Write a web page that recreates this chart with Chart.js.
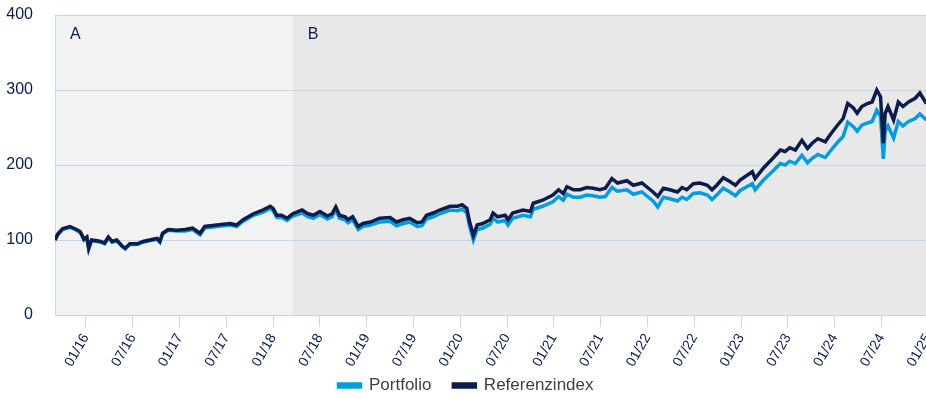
<!DOCTYPE html>
<html>
<head>
<meta charset="utf-8">
<script src="https://cdn.jsdelivr.net/npm/chart.js@4"></script>
<style>
  body { margin: 0; overflow: hidden; background: #fff; }
  #wrap { width: 932px; height: 399px; }
</style>
</head>
<body>
<div id="wrap"><canvas id="perfChart"></canvas></div>
<script>
// dates as decimal years
const dates = [
  2015.67, 2015.70, 2015.75, 2015.83, 2015.90, 2015.94, 2015.98, 2016.01, 2016.03, 2016.06,
  2016.12, 2016.16, 2016.20, 2016.24, 2016.28, 2016.33, 2016.38, 2016.42, 2016.47, 2016.55,
  2016.61, 2016.68, 2016.76, 2016.79, 2016.82, 2016.88, 2016.97, 2017.06, 2017.14, 2017.22,
  2017.27, 2017.40, 2017.54, 2017.61, 2017.68, 2017.79, 2017.89, 2017.97, 2018.00, 2018.04,
  2018.09, 2018.15, 2018.21, 2018.31, 2018.37, 2018.43, 2018.50, 2018.58, 2018.63, 2018.67,
  2018.71, 2018.77, 2018.80, 2018.85, 2018.91, 2018.96, 2019.04, 2019.14, 2019.25, 2019.32,
  2019.39, 2019.46, 2019.54, 2019.59, 2019.64, 2019.71, 2019.78, 2019.89, 2019.97, 2020.02,
  2020.07, 2020.10, 2020.14, 2020.18, 2020.24, 2020.32, 2020.35, 2020.40, 2020.48, 2020.51,
  2020.56, 2020.67, 2020.75, 2020.78, 2020.88, 2020.99, 2021.05, 2021.10, 2021.14, 2021.21,
  2021.28, 2021.35, 2021.42, 2021.49, 2021.55, 2021.62, 2021.68, 2021.78, 2021.85, 2021.94,
  2022.01, 2022.06, 2022.11, 2022.17, 2022.24, 2022.32, 2022.37, 2022.42, 2022.49, 2022.56,
  2022.64, 2022.69, 2022.74, 2022.81, 2022.88, 2022.94, 2022.99, 2023.12, 2023.15, 2023.24,
  2023.34, 2023.42, 2023.47, 2023.52, 2023.58, 2023.65, 2023.71, 2023.76, 2023.82, 2023.90,
  2023.95, 2024.03, 2024.09, 2024.14, 2024.20, 2024.24, 2024.29, 2024.35, 2024.40, 2024.45,
  2024.49, 2024.52, 2024.54, 2024.57, 2024.63, 2024.68, 2024.73, 2024.79, 2024.86, 2024.91,
  2024.98
]

const referenzindex = [
  100, 108, 115, 118, 114, 111, 101, 104, 89, 100,
  99, 98, 96, 104, 98, 100, 93, 89, 95, 95,
  98, 100, 102, 98, 109, 114, 113, 114, 116, 109,
  118, 120, 122, 120, 127, 135, 140, 145, 142, 133,
  133, 129, 135, 140, 135, 133, 138, 132, 135, 144,
  133, 131, 127, 131, 118, 122, 124, 129, 130, 124,
  127, 129, 123, 124, 133, 136, 140, 145, 145, 147,
  142, 124, 106, 120, 122, 127, 136, 131, 133, 127,
  136, 140, 138, 149, 153, 160, 167, 162, 171, 167,
  167, 170, 169, 167, 169, 182, 176, 179, 173, 176,
  169, 164, 158, 169, 167, 164, 170, 167, 175, 176,
  173, 167, 173, 183, 178, 173, 180, 191, 182, 196,
  209, 220, 218, 223, 220, 233, 222, 229, 235, 231,
  240, 253, 262, 282, 276, 269, 278, 282, 284, 300,
  291, 229, 269, 278, 260, 284, 278, 284, 289, 296,
  282
]

const portfolio = [
  100, 107, 114, 117, 113, 110, 100, 103, 88, 99,
  98, 97, 95, 103, 97, 99, 92, 88, 94, 94,
  97, 99, 101, 97, 108, 113, 112, 112, 114, 107,
  116, 118, 120, 118, 125, 133, 137, 142, 139, 130,
  130, 126, 132, 136, 131, 129, 134, 128, 131, 140,
  129, 127, 123, 127, 114, 118, 120, 124, 125, 119,
  122, 124, 118, 119, 128, 131, 135, 140, 139, 141,
  136, 118, 100, 114, 116, 121, 129, 124, 126, 120,
  129, 133, 131, 141, 145, 151, 158, 153, 161, 157,
  157, 160, 159, 157, 158, 170, 165, 167, 161, 164,
  157, 152, 144, 157, 155, 152, 157, 154, 162, 163,
  160, 154, 160, 169, 164, 159, 166, 175, 167, 180,
  192, 202, 200, 205, 202, 213, 203, 209, 214, 210,
  218, 230, 238, 257, 251, 245, 253, 256, 258, 273,
  265, 208, 245, 252, 236, 258, 252, 258, 262, 268,
  260
]

const tickValues = [2016, 2016.5, 2017, 2017.5, 2018, 2018.5, 2019, 2019.5, 2020, 2020.5,
  2021, 2021.5, 2022, 2022.5, 2023, 2023.5, 2024, 2024.5, 2025]
const tickLabels = ['01/16', '07/16', '01/17', '07/17', '01/18', '07/18', '01/19', '07/19', '01/20', '07/20',
  '01/21', '07/21', '01/22', '07/22', '01/23', '07/23', '01/24', '07/24', '01/25']

// phase A / B backgrounds
const phaseStarts = [2015.67, 2018.21]
const phaseNames = ['A', 'B']
const phaseColors = ['#f2f2f2', '#e8e8e8']

const navy = '#0b1c4f'
const cyan = '#009ee0'
const gridBlue = '#c7d5e8'
const fontFamily = '"Liberation Sans", Arial, sans-serif'

const toPoints = (vals) => vals.map((v, i) => ({ x: dates[i], y: v }))

const phasePlugin = {
  id: 'phases',
  // legend keeps a wide item gap (padding) but sits close under the x labels
  afterLayout(chart) {
    chart.legend.top -= chart.legend.options.labels.padding
  },
  beforeDraw(chart) {
    const { ctx, chartArea, scales } = chart
    ctx.save()
    phaseStarts.forEach((start, i) => {
      const x0 = Math.max(scales.x.getPixelForValue(start), chartArea.left)
      const x1 = i + 1 < phaseStarts.length ? scales.x.getPixelForValue(phaseStarts[i + 1]) : chartArea.right
      ctx.fillStyle = phaseColors[i]
      ctx.fillRect(x0, chartArea.top, x1 - x0, chartArea.bottom - chartArea.top)
      ctx.fillStyle = navy
      ctx.font = '16px ' + fontFamily
      ctx.textBaseline = 'middle'
      ctx.fillText(phaseNames[i], x0 + 15, chartArea.top + 20)
    })
    ctx.restore()
  }
}

new Chart(document.getElementById('perfChart'), {
  type: 'line',
  data: {
    datasets: [
      {
        label: 'Referenzindex',
        data: toPoints(referenzindex),
        borderColor: navy,
        backgroundColor: navy,
        borderWidth: 3.5,
        pointRadius: 0,
        tension: 0
      },
      {
        label: 'Portfolio',
        data: toPoints(portfolio),
        borderColor: cyan,
        backgroundColor: cyan,
        borderWidth: 3.5,
        pointRadius: 0,
        tension: 0
      }
    ]
  },
  options: {
    responsive: true,
    maintainAspectRatio: false,
    animation: false,
    layout: { padding: { top: 15, right: 0, left: 0, bottom: 0 } },
    plugins: {
      tooltip: { enabled: false },
      legend: {
        position: 'bottom',
        reverse: true,
        maxHeight: 22,
        labels: {
          boxWidth: 22,
          boxHeight: 3,
          padding: 22,
          color: '#404040',
          font: { family: fontFamily, size: 17 }
        }
      }
    },
    scales: {
      x: {
        type: 'linear',
        min: 2015.67,
        max: 2025.04,
        afterBuildTicks: (scale) => { scale.ticks = tickValues.map(v => ({ value: v })) },
        // let the plot run to the right edge, the last label gets cut
        afterFit: (scale) => { scale.paddingRight = 0; scale.paddingLeft = 0; scale.height = 62 },
        grid: { drawOnChartArea: false, color: gridBlue, tickLength: 12 },
        border: { color: gridBlue },
        ticks: {
          autoSkip: false,
          maxRotation: 60,
          minRotation: 60,
          padding: 4,
          color: navy,
          font: { family: fontFamily, size: 14 },
          callback: (v, i) => tickLabels[i]
        }
      },
      y: {
        min: 0,
        max: 400,
        afterFit: (scale) => { scale.paddingTop = 0; scale.width = 55 },
        ticks: {
          stepSize: 100,
          padding: 22,
          color: navy,
          font: { family: fontFamily, size: 16 }
        },
        grid: { color: gridBlue, drawTicks: false },
        border: { color: gridBlue }
      }
    }
  },
  plugins: [phasePlugin]
})
</script>
</body>
</html>
